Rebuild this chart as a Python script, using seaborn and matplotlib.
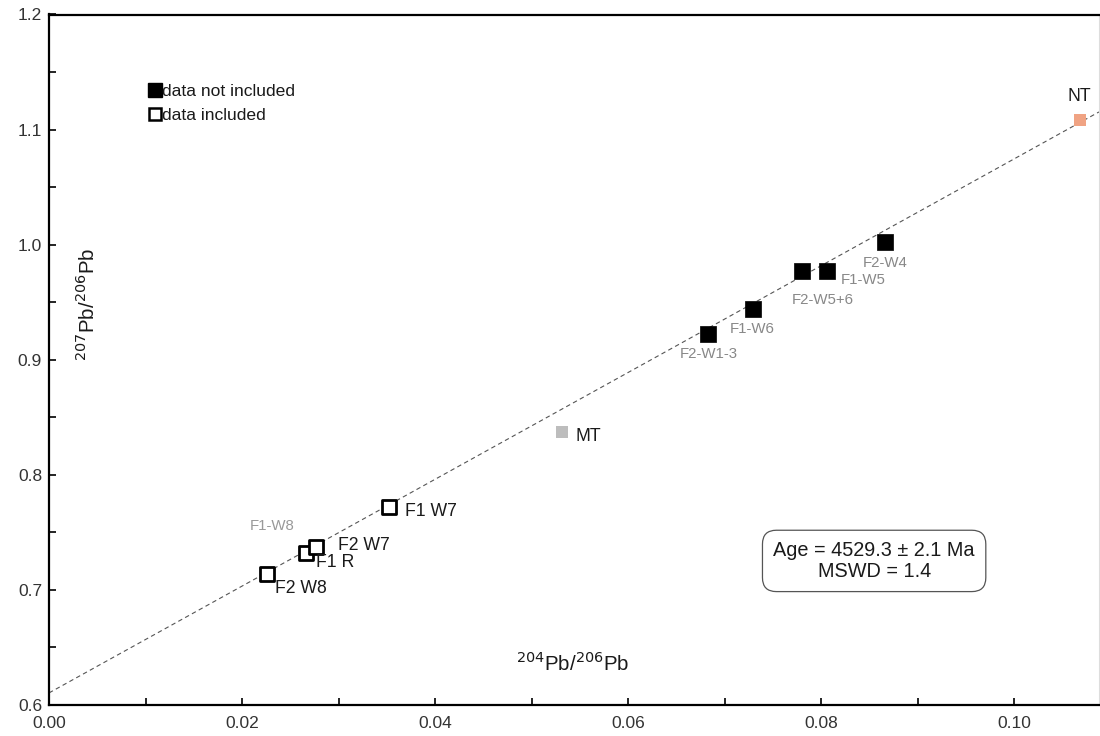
import numpy as np
import pandas as pd
import matplotlib
matplotlib.use("Agg")
import matplotlib.pyplot as plt
from matplotlib.lines import Line2D
from matplotlib.ticker import MultipleLocator, FormatStrFormatter
import seaborn as sns

sns.set_theme(style="white")
plt.rcParams["font.family"] = ["Liberation Sans", "DejaVu Sans"]

# Fractions used in the isochron (included)
inc_labels = ["F2 W8", "F1 R", "F2 W7", "F1 W7"]
inc_x = [0.0226, 0.0266, 0.0277, 0.0352]
inc_y = [0.714, 0.732, 0.737, 0.772]

# Fractions not used in the isochron
exc_labels = ["F2-W1-3", "F1-W6", "F2-W5+6", "F1-W5", "F2-W4"]
exc_x = [0.0683, 0.0729, 0.0780, 0.0806, 0.0866]
exc_y = [0.922, 0.944, 0.977, 0.977, 1.002]

# Reference compositions
mt_x, mt_y = [0.0532], [0.837]
nt_x, nt_y = [0.1068], [1.108]

# Isochron fit
intercept = 0.6105
slope = 4.64

fig = plt.figure(figsize=(11, 7.36), dpi=100)
ax = fig.add_axes([49 / 1100, 31 / 736, 1050 / 1100, 690.5 / 736])

x_min, x_max = 0.0, 0.1088
line_x = np.array([x_min, x_max])
sns.lineplot(x=line_x, y=intercept + slope * line_x, ax=ax, color="#555555",
             lw=0.8, linestyle=(0, (4, 3)), zorder=1)

inc = pd.DataFrame({"x": inc_x, "y": inc_y, "label": inc_labels})
exc = pd.DataFrame({"x": exc_x, "y": exc_y, "label": exc_labels})

sns.scatterplot(data=exc, x="x", y="y", ax=ax, marker="s", s=120,
                color="black", edgecolor="black", linewidth=0.5, zorder=3)
sns.scatterplot(data=inc, x="x", y="y", ax=ax, marker="s", s=95,
                facecolor="white", edgecolor="black", linewidth=2.0, zorder=3)
sns.scatterplot(x=mt_x, y=mt_y, ax=ax, marker="s", s=75, color="#bdbdbd",
                edgecolor="none", zorder=3)
sns.scatterplot(x=nt_x, y=nt_y, ax=ax, marker="s", s=75, color="#f0a383",
                edgecolor="none", zorder=3)

# Point labels
black_fs = 12.7
text_col = "#1a1a1a"
inc_offsets = {"F2 W8": (0.0008, -0.0125), "F1 R": (0.0011, -0.008),
               "F2 W7": (0.0022, 0.002), "F1 W7": (0.0017, -0.0035)}
for lab, xv, yv in zip(inc_labels, inc_x, inc_y):
    dx, dy = inc_offsets[lab]
    ax.text(xv + dx, yv + dy, lab, fontsize=black_fs, color=text_col,
            ha="left", va="center")
ax.text(0.0231, 0.7557, "F1-W8", fontsize=10.8, color="#999999",
        ha="center", va="center")

exc_offsets = {"F2-W1-3": (0.0001, -0.0174), "F1-W6": (0.0, -0.017),
               "F2-W5+6": (0.0022, -0.025), "F1-W5": (0.0014, -0.008),
               "F2-W4": (0.0, -0.018)}
for lab, xv, yv in zip(exc_labels, exc_x, exc_y):
    dx, dy = exc_offsets[lab]
    ax.text(xv + dx, yv + dy, lab, fontsize=10.8, color="#888888",
            ha="center" if lab != "F1-W5" else "left", va="center")

ax.text(mt_x[0] + 0.0014, mt_y[0] - 0.0035, "MT", fontsize=black_fs,
        color=text_col, ha="left", va="center")
ax.text(nt_x[0], nt_y[0] + 0.0207, "NT", fontsize=black_fs, color=text_col,
        ha="center", va="center")

# Axis titles inside the plot area
ax.text(0.0543, 0.6365, r"$^{204}$Pb/$^{206}$Pb", fontsize=14.8,
        ha="center", va="center", color=text_col)
ax.text(0.0040, 0.948, r"$^{207}$Pb/$^{206}$Pb", fontsize=14.8,
        ha="center", va="center", rotation=90, color=text_col)
ax.set_xlabel("")
ax.set_ylabel("")

# Age box
ax.text(0.0855, 0.7252, "Age = 4529.3 \u00b1 2.1 Ma\nMSWD = 1.4",
        fontsize=14.3, ha="center", va="center", linespacing=1.1,
        color=text_col,
        bbox=dict(boxstyle="round,pad=0.55,rounding_size=0.7", fc="white",
                  ec="#555555", lw=0.9))

# Legend
handles = [
    Line2D([], [], marker="s", linestyle="none", markersize=9.5,
           markerfacecolor="black", markeredgecolor="black"),
    Line2D([], [], marker="s", linestyle="none", markersize=8,
           markerfacecolor="white", markeredgecolor="black",
           markeredgewidth=1.8),
]
leg = ax.legend(handles, ["data not included", "data included"],
                loc="upper left", bbox_to_anchor=(0.088, 0.912), frameon=False,
                fontsize=12.6, handlelength=0.6, handletextpad=0.1,
                labelspacing=0.5, borderpad=0)
for t in leg.get_texts():
    t.set_color(text_col)

ax.set_xlim(x_min, x_max)
ax.set_ylim(0.6, 1.2)
ax.xaxis.set_major_locator(MultipleLocator(0.02))
ax.xaxis.set_minor_locator(MultipleLocator(0.01))
ax.yaxis.set_major_locator(MultipleLocator(0.1))
ax.yaxis.set_minor_locator(MultipleLocator(0.05))
ax.xaxis.set_major_formatter(FormatStrFormatter("%.2f"))
ax.yaxis.set_major_formatter(FormatStrFormatter("%.1f"))
ax.tick_params(axis="both", which="both", direction="in", length=5,
               width=1.2, color="black", labelsize=12.5, labelcolor="#333333",
               bottom=True, left=True, top=False, right=False)
ax.tick_params(axis="x", pad=8)
ax.tick_params(axis="y", pad=5)

for side in ["left", "bottom", "top"]:
    ax.spines[side].set_visible(True)
    ax.spines[side].set_color("black")
    ax.spines[side].set_linewidth(1.6)
ax.spines["right"].set_visible(True)
ax.spines["right"].set_color("#dddddd")
ax.spines["right"].set_linewidth(0.8)

fig.savefig("out.png", dpi=100, facecolor="white")
